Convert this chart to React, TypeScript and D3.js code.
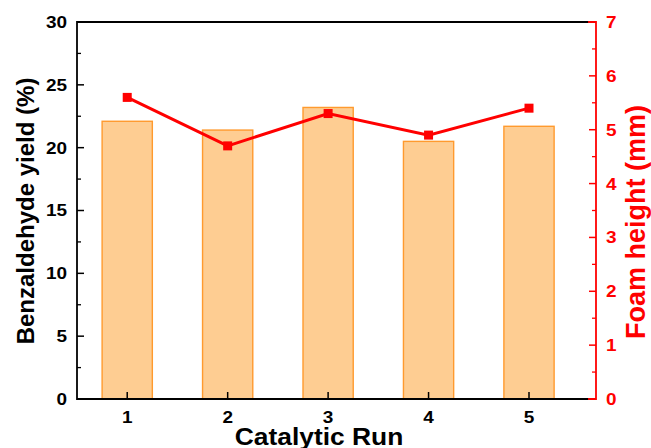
import React from "react";
import * as d3 from "d3";

const runs = [1, 2, 3, 4, 5];
const yieldValues = [22.1, 21.4, 23.2, 20.5, 21.7];
const foamHeights = [5.6, 4.7, 5.3, 4.9, 5.4];
const leftTicks = [0, 5, 10, 15, 20, 25, 30];
const rightTicks = [0, 1, 2, 3, 4, 5, 6, 7];

const W = 651, H = 448;
const L = 77, R = 596, T = 22, B = 399;
const FONT = "'Liberation Sans', Arial, sans-serif";
const SX = 1.15;

export default function App() {
  const x = d3.scaleLinear().domain([0.5, 5.667]).range([L, R]);
  const yL = d3.scaleLinear().domain([0, 30]).range([B, T]);
  const yR = d3.scaleLinear().domain([0, 7]).range([B, T]);
  const barW = x(1.25) - x(0.75);
  const line = d3.line<number>().x((_, i) => x(runs[i])).y((d) => yR(d));
  const leftMinor = d3.range(2.5, 30, 5);
  const rightMinor = d3.range(0.5, 7, 1);

  return (
    <svg width={W} height={H} style={{ position: "absolute", left: 0, top: 0 }}>
      <rect width={W} height={H} fill="#fff" />
      {runs.map((r, i) => (
        <rect key={r} x={x(r) - barW / 2} y={yL(yieldValues[i])} width={barW}
          height={B - yL(yieldValues[i])} fill="#FECD92" stroke="#FF9A2E" strokeWidth={1.4} />
      ))}
      {/* frame */}
      <line x1={L} x2={R} y1={T} y2={T} stroke="#000" strokeWidth={1.8} />
      <line x1={L} x2={R} y1={B} y2={B} stroke="#000" strokeWidth={1.8} />
      <line x1={L} x2={L} y1={T - 0.9} y2={B + 0.9} stroke="#000" strokeWidth={1.8} />
      <line x1={R - 8} x2={R} y1={T} y2={T} stroke="#f00" strokeWidth={1.8} />
      <line x1={R - 8} x2={R} y1={B} y2={B} stroke="#f00" strokeWidth={1.8} />
      <line x1={R} x2={R} y1={T - 0.9} y2={B + 0.9} stroke="#f00" strokeWidth={1.8} />
      {/* left ticks */}
      {leftTicks.map((t) => (
        <g key={t}>
          <line x1={L} x2={L + 7} y1={yL(t)} y2={yL(t)} stroke="#000" strokeWidth={1.5} />
          <text transform={`translate(${L - 10},${yL(t)}) scale(${SX},1)`} dy="0.36em" textAnchor="end"
            fontFamily={FONT} fontWeight="bold" fontSize={16.5}>{t}</text>
        </g>
      ))}
      {leftMinor.map((t) => (
        <line key={t} x1={L} x2={L + 4} y1={yL(t)} y2={yL(t)} stroke="#000" strokeWidth={1.3} />
      ))}
      {/* right ticks */}
      {rightTicks.map((t) => (
        <g key={t}>
          <line x1={R - 7} x2={R} y1={yR(t)} y2={yR(t)} stroke="#f00" strokeWidth={1.5} />
          <text transform={`translate(${R + 10},${yR(t)}) scale(${SX},1)`} dy="0.36em" textAnchor="start"
            fontFamily={FONT} fontWeight="bold" fontSize={16.5} fill="#f00">{t}</text>
        </g>
      ))}
      {rightMinor.map((t) => (
        <line key={t} x1={R - 4} x2={R} y1={yR(t)} y2={yR(t)} stroke="#f00" strokeWidth={1.3} />
      ))}
      {/* bottom ticks */}
      {runs.map((r) => (
        <g key={r}>
          <line x1={x(r)} x2={x(r)} y1={B} y2={B - 7} stroke="#000" strokeWidth={1.5} />
          <text transform={`translate(${x(r)},${B + 24}) scale(${SX},1)`} textAnchor="middle"
            fontFamily={FONT} fontWeight="bold" fontSize={16.5}>{r}</text>
        </g>
      ))}
      {/* line series */}
      <path d={line(foamHeights) || ""} fill="none" stroke="#f00" strokeWidth={3} />
      {foamHeights.map((v, i) => (
        <rect key={i} x={x(runs[i]) - 4.5} y={yR(v) - 4.5} width={9} height={9} fill="#f00" />
      ))}
      {/* titles */}
      <text transform={`translate(319,445) scale(1.1,1)`} textAnchor="middle" fontFamily={FONT}
        fontWeight="bold" fontSize={24}>Catalytic Run</text>
      <text transform={`translate(34,211) rotate(-90)`} textAnchor="middle"
        fontFamily={FONT} fontWeight="bold" fontSize={24}>Benzaldehyde yield (%)</text>
      <text transform={`translate(645,222) rotate(-90)`} textAnchor="middle"
        fontFamily={FONT} fontWeight="bold" fontSize={27} fill="#f00">Foam height (mm)</text>
    </svg>
  );
}
